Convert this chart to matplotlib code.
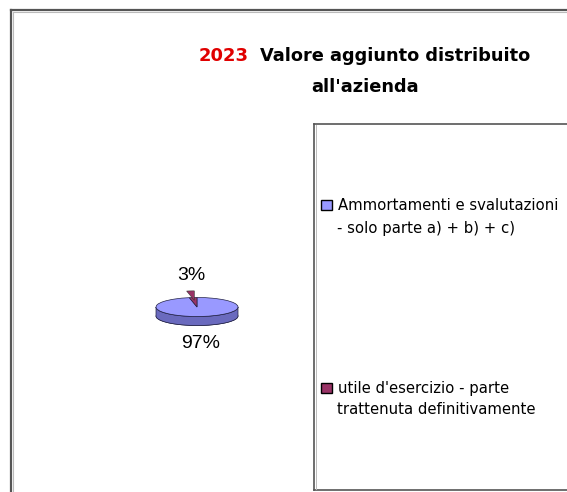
import numpy as np
import matplotlib
matplotlib.use("Agg")
import matplotlib.pyplot as plt
from matplotlib.patches import Polygon, Rectangle
from matplotlib.lines import Line2D

categories = [["Ammortamenti e svalutazioni", "- solo parte a) + b) + c)"],
              ["utile d'esercizio - parte", "trattenuta definitivamente"]]
values = [97, 3]
pct_labels = ["97%", "3%"]
colors_top = ["#9999FF", "#993366"]
colors_side = ["#6A6ABE", "#662244"]
title_year = "2023"
title_rest = "Valore aggiunto distribuito"
title_line2 = "all'azienda"

W, H = 567, 492
fig = plt.figure(figsize=(W / 100, H / 100), dpi=100)

def fx(x):
    return x / W

def fy(y):
    return 1 - y / H

# outer frame (top and left)
for xs, ys, c, lw in [([11, 11], [492, 10], "#555555", 1.6), ([11, W], [10, 10], "#555555", 1.6),
                      ([12.5, 12.5], [492, 11.5], "#bbbbbb", 0.8), ([12.5, W], [11.5, 11.5], "#bbbbbb", 0.8)]:
    fig.add_artist(Line2D([fx(v) for v in xs], [fy(v) for v in ys], color=c, lw=lw))

# legend box
for xs, ys, c, lw in [([314, 314], [124, 490], "#555555", 1.2), ([314, W], [124, 124], "#555555", 1.2),
                      ([314, W], [490, 490], "#555555", 1.2), ([315.5, 315.5], [125, 489], "#bbbbbb", 0.7)]:
    fig.add_artist(Line2D([fx(v) for v in xs], [fy(v) for v in ys], color=c, lw=lw))

# title
fig.text(fx(199), fy(56), title_year, color="#E00000", fontsize=13, fontweight="bold",
         ha="left", va="center", family="DejaVu Sans")
fig.text(fx(260), fy(56), title_rest, color="black", fontsize=12.8, fontweight="bold",
         ha="left", va="center", family="DejaVu Sans")
fig.text(fx(365), fy(87), title_line2, color="black", fontsize=12.8, fontweight="bold",
         ha="center", va="center", family="DejaVu Sans")

# 3D-looking pie (axes in units of the vertical radius)
cx, cy, rx, ry, dpx = 197, 307, 41, 9.5, 9
ax_top, ax_bot = 284, 330
ax = fig.add_axes([fx(cx - rx - 1), fy(ax_bot), (2 * rx + 2) / W, (ax_bot - ax_top) / H])
depth = dpx / ry
ax.pie(values, colors=colors_side, startangle=90, counterclock=False, center=(0, -depth),
       radius=1, wedgeprops=dict(edgecolor="#222244", linewidth=0.5))
t = np.linspace(np.pi, 2 * np.pi, 100)
upper = np.column_stack([np.cos(t), np.sin(t)])
lower = np.column_stack([np.cos(t[::-1]), np.sin(t[::-1]) - depth])
ax.add_patch(Polygon(np.vstack([upper, lower]), closed=True, facecolor=colors_side[0],
                     edgecolor="#222244", linewidth=0.5, zorder=2))
wedges, _ = ax.pie(values, colors=colors_top, startangle=90, counterclock=False, center=(0, 0),
                   radius=1, wedgeprops=dict(edgecolor="#222244", linewidth=0.5))
for w in wedges:
    w.set_zorder(3)
# raised copy of the small slice (3D tilt effect)
raised, _ = ax.pie(values, colors=colors_top, startangle=90, counterclock=False, center=(0, 0),
                   radius=1, explode=[0, 0.7], wedgeprops=dict(edgecolor="#333333", linewidth=0.4))
raised[0].set_visible(False)
raised[1].set_zorder(4)
ax.set_aspect("auto")
ax.set_xlim(-(rx + 1) / rx, (rx + 1) / rx)
ax.set_ylim(-(ax_bot - cy) / ry, (cy - ax_top) / ry)
ax.axis("off")

# percent labels
fig.text(fx(191), fy(275), pct_labels[1], fontsize=14, ha="center", va="center", family="Liberation Sans")
fig.text(fx(201), fy(344), pct_labels[0], fontsize=14, ha="center", va="center", family="Liberation Sans")

# legend
square_y = [205, 388]
line_y = [[206, 229], [388, 409]]
for i, (lines, c) in enumerate(zip(categories, colors_top)):
    fig.add_artist(Rectangle((fx(321), fy(square_y[i] + 5)), 11 / W, 10 / H, facecolor=c,
                             edgecolor="black", linewidth=1.0, transform=fig.transFigure))
    for j, line in enumerate(lines):
        fig.text(fx(338) if j == 0 else fx(337), fy(line_y[i][j]), line, fontsize=10.7,
                 ha="left", va="center", family="DejaVu Sans")

fig.savefig("out.png", dpi=100, facecolor="white")
